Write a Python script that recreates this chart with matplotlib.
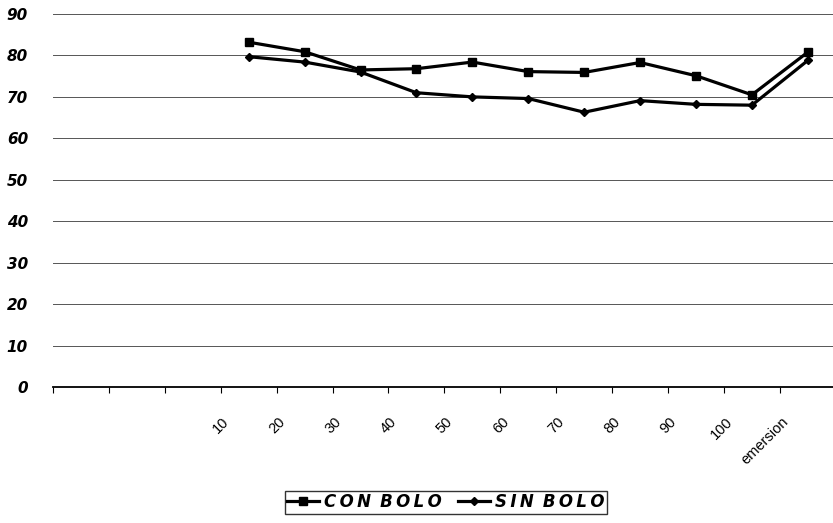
import numpy as np
import matplotlib.pyplot as plt

# categories along the x axis (first three slots are empty in the original chart)
categories = ['', '', '', '10', '20', '30', '40', '50', '60', '70', '80', '90', '100', 'emersion']
measured = ['10', '20', '30', '40', '50', '60', '70', '80', '90', '100', 'emersion']
con_bolo = [83.2, 80.9, 76.5, 76.8, 78.4, 76.1, 75.9, 78.3, 75.1, 70.5, 80.8]
sin_bolo = [79.7, 78.4, 76.0, 71.0, 70.0, 69.6, 66.3, 69.1, 68.2, 68.0, 78.8]

fig = plt.figure(figsize=(8.33, 5.23), dpi=100)
ax = fig.add_axes([53/833, 136/523, 1 - 53/833, (387 - 14)/523])

x = np.array([categories.index(c) for c in measured])
ax.plot(x, con_bolo, color='black', lw=2.3, marker='s', ms=6, label='C\u2009O\u2009N\u2009 B\u2009O\u2009L\u2009O')
ax.plot(x, sin_bolo, color='black', lw=2.3, marker='D', ms=4, label='S\u2009I\u2009N\u2009 B\u2009O\u2009L\u2009O')

ax.set_xlim(-0.5, 13.45)
ax.set_ylim(0, 90)
ax.set_yticks(range(0, 91, 10))
ax.set_yticklabels([str(v) for v in range(0, 91, 10)], fontfamily='DejaVu Sans',
                   fontweight='bold', fontstyle='italic', fontsize=11)
ax.tick_params(axis='y', length=0, pad=18)
ax.yaxis.grid(True, color='#555555', lw=0.7)
ax.set_axisbelow(True)

# tick marks between categories, labels shifted a bit to the left
pos = np.arange(len(categories))
ax.set_xticks(pos - 0.5)
ax.set_xticklabels([])
ax.set_xticks(pos - 0.3, minor=True)
ax.set_xticklabels(categories, minor=True, rotation=45, ha='right', va='top',
                   fontfamily='Liberation Sans', fontsize=10.5)
ax.tick_params(axis='x', which='major', length=4, direction='out', color='black')
ax.tick_params(axis='x', which='minor', length=0, pad=20)

for s in ['left', 'right', 'top']:
    ax.spines[s].set_visible(False)
ax.spines['bottom'].set_linewidth(1.3)

leg = fig.legend(loc='center', bbox_to_anchor=(446/833, 21/523), ncol=2, frameon=True,
                 fancybox=False, edgecolor='black', handlelength=1.9, handletextpad=0.3,
                 columnspacing=1.0, borderpad=0.15,
                 prop={'family': 'DejaVu Sans', 'weight': 'bold', 'style': 'italic', 'size': 12})
leg.get_frame().set_linewidth(1.0)

fig.savefig('out.png', dpi=100)
